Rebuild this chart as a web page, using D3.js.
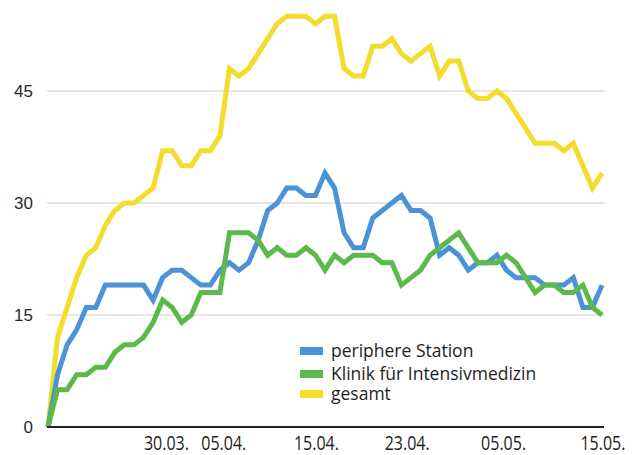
<!DOCTYPE html>
<html>
<head>
<meta charset="utf-8">
<script src="https://cdn.jsdelivr.net/npm/d3@7"></script>
<style>
  html, body { margin: 0; padding: 0; background: #fff; }
  svg { display: block; }
</style>
</head>
<body>
<svg id="chart" width="640" height="455"></svg>
<script>
// Daily patient counts, 18.03. – 15.05.
const peripher = [0, 7, 11, 13, 16, 16, 19, 19, 19, 19, 19, 17, 20, 21, 21, 20, 19, 19, 21, 22,
  21, 22, 25, 29, 30, 32, 32, 31, 31, 34, 32, 26, 24, 24, 28, 29, 30, 31, 29, 29,
  28, 23, 24, 23, 21, 22, 22, 23, 21, 20, 20, 20, 19, 19, 19, 20, 16, 16, 19];
const intensiv = [0, 5, 5, 7, 7, 8, 8, 10, 11, 11, 12, 14, 17, 16, 14, 15, 18, 18, 18, 26,
  26, 26, 25, 23, 24, 23, 23, 24, 23, 21, 23, 22, 23, 23, 23, 22, 22, 19, 20, 21,
  23, 24, 25, 26, 24, 22, 22, 22, 23, 22, 20, 18, 19, 19, 18, 18, 19, 16, 15];
const gesamt = [0, 12, 16, 20, 23, 24, 27, 29, 30, 30, 31, 32, 37, 37, 35, 35, 37, 37, 39, 48,
  47, 48, 50, 52, 54, 55, 55, 55, 54, 55, 55, 48, 47, 47, 51, 51, 52, 50, 49, 50,
  51, 47, 49, 49, 45, 44, 44, 45, 44, 42, 40, 38, 38, 38, 37, 38, 35, 32, 34];

const seriesNames = ["periphere Station", "Klinik für Intensivmedizin", "gesamt"];
const seriesColors = ["#4b93d6", "#5cb94a", "#f3dc2c"];

const yTicks = [0, 15, 30, 45];
const xLabels = ["30.03.", "05.04.", "15.04.", "23.04.", "05.05.", "15.05."];
const xLabelDay = [12.4, 18.4, 28.1, 37.6, 47.7, 58.1];

const svg = d3.select("#chart");
const x = d3.scaleLinear().domain([0, peripher.length - 1]).range([48, 602]);
const y = d3.scaleLinear().domain([0, 55]).range([427, 16.3]);

// horizontal grid
svg.append("g").selectAll("line")
  .data(yTicks.filter(d => d > 0))
  .join("line")
  .attr("x1", 47).attr("x2", 605)
  .attr("y1", d => y(d)).attr("y2", d => y(d))
  .attr("stroke", "#dcdcdc").attr("stroke-width", 1.6);

// y tick labels
svg.append("g").selectAll("text")
  .data(yTicks)
  .join("text")
  .attr("x", 33).attr("y", d => y(d) + 6)
  .attr("text-anchor", "end")
  .attr("font-family", "Liberation Sans, Arial, sans-serif")
  .attr("font-size", 17)
  .attr("fill", "#2a2a2a")
  .text(d => d);

// lines: gesamt behind, then the two wards
const line = d3.line().x((d, i) => x(i)).y(d => y(d));
const drawOrder = [[gesamt, 2], [peripher, 0], [intensiv, 1]];
svg.append("g").selectAll("path")
  .data(drawOrder)
  .join("path")
  .attr("d", d => line(d[0]))
  .attr("fill", "none")
  .attr("stroke", d => seriesColors[d[1]])
  .attr("stroke-width", 5)
  .attr("stroke-linejoin", "miter")
  .attr("stroke-miterlimit", 3);

// baseline
svg.append("line")
  .attr("x1", 47).attr("x2", 604)
  .attr("y1", y(0)).attr("y2", y(0))
  .attr("stroke", "#222").attr("stroke-width", 2.2);

// x labels
svg.append("g").selectAll("text")
  .data(xLabels)
  .join("text")
  .attr("x", (d, i) => x(xLabelDay[i]))
  .attr("y", 450)
  .attr("text-anchor", "middle")
  .attr("font-family", "Open Sans, sans-serif")
  .attr("font-size", 20)
  .attr("textLength", 45)
  .attr("lengthAdjust", "spacingAndGlyphs")
  .attr("fill", "#1e1e1e")
  .text(d => d);

// legend
const legend = svg.append("g");
const rowY = [351, 374, 394];
legend.selectAll("rect")
  .data(seriesNames)
  .join("rect")
  .attr("x", 300).attr("y", (d, i) => rowY[i] - 4)
  .attr("width", 23).attr("height", 8)
  .attr("fill", (d, i) => seriesColors[i]);
legend.selectAll("text")
  .data(seriesNames)
  .join("text")
  .attr("x", 331).attr("y", (d, i) => rowY[i] + 6)
  .attr("font-family", "Open Sans, sans-serif")
  .attr("font-size", 17.5)
  .attr("fill", "#1e1e1e")
  .text(d => d);
</script>
</body>
</html>
